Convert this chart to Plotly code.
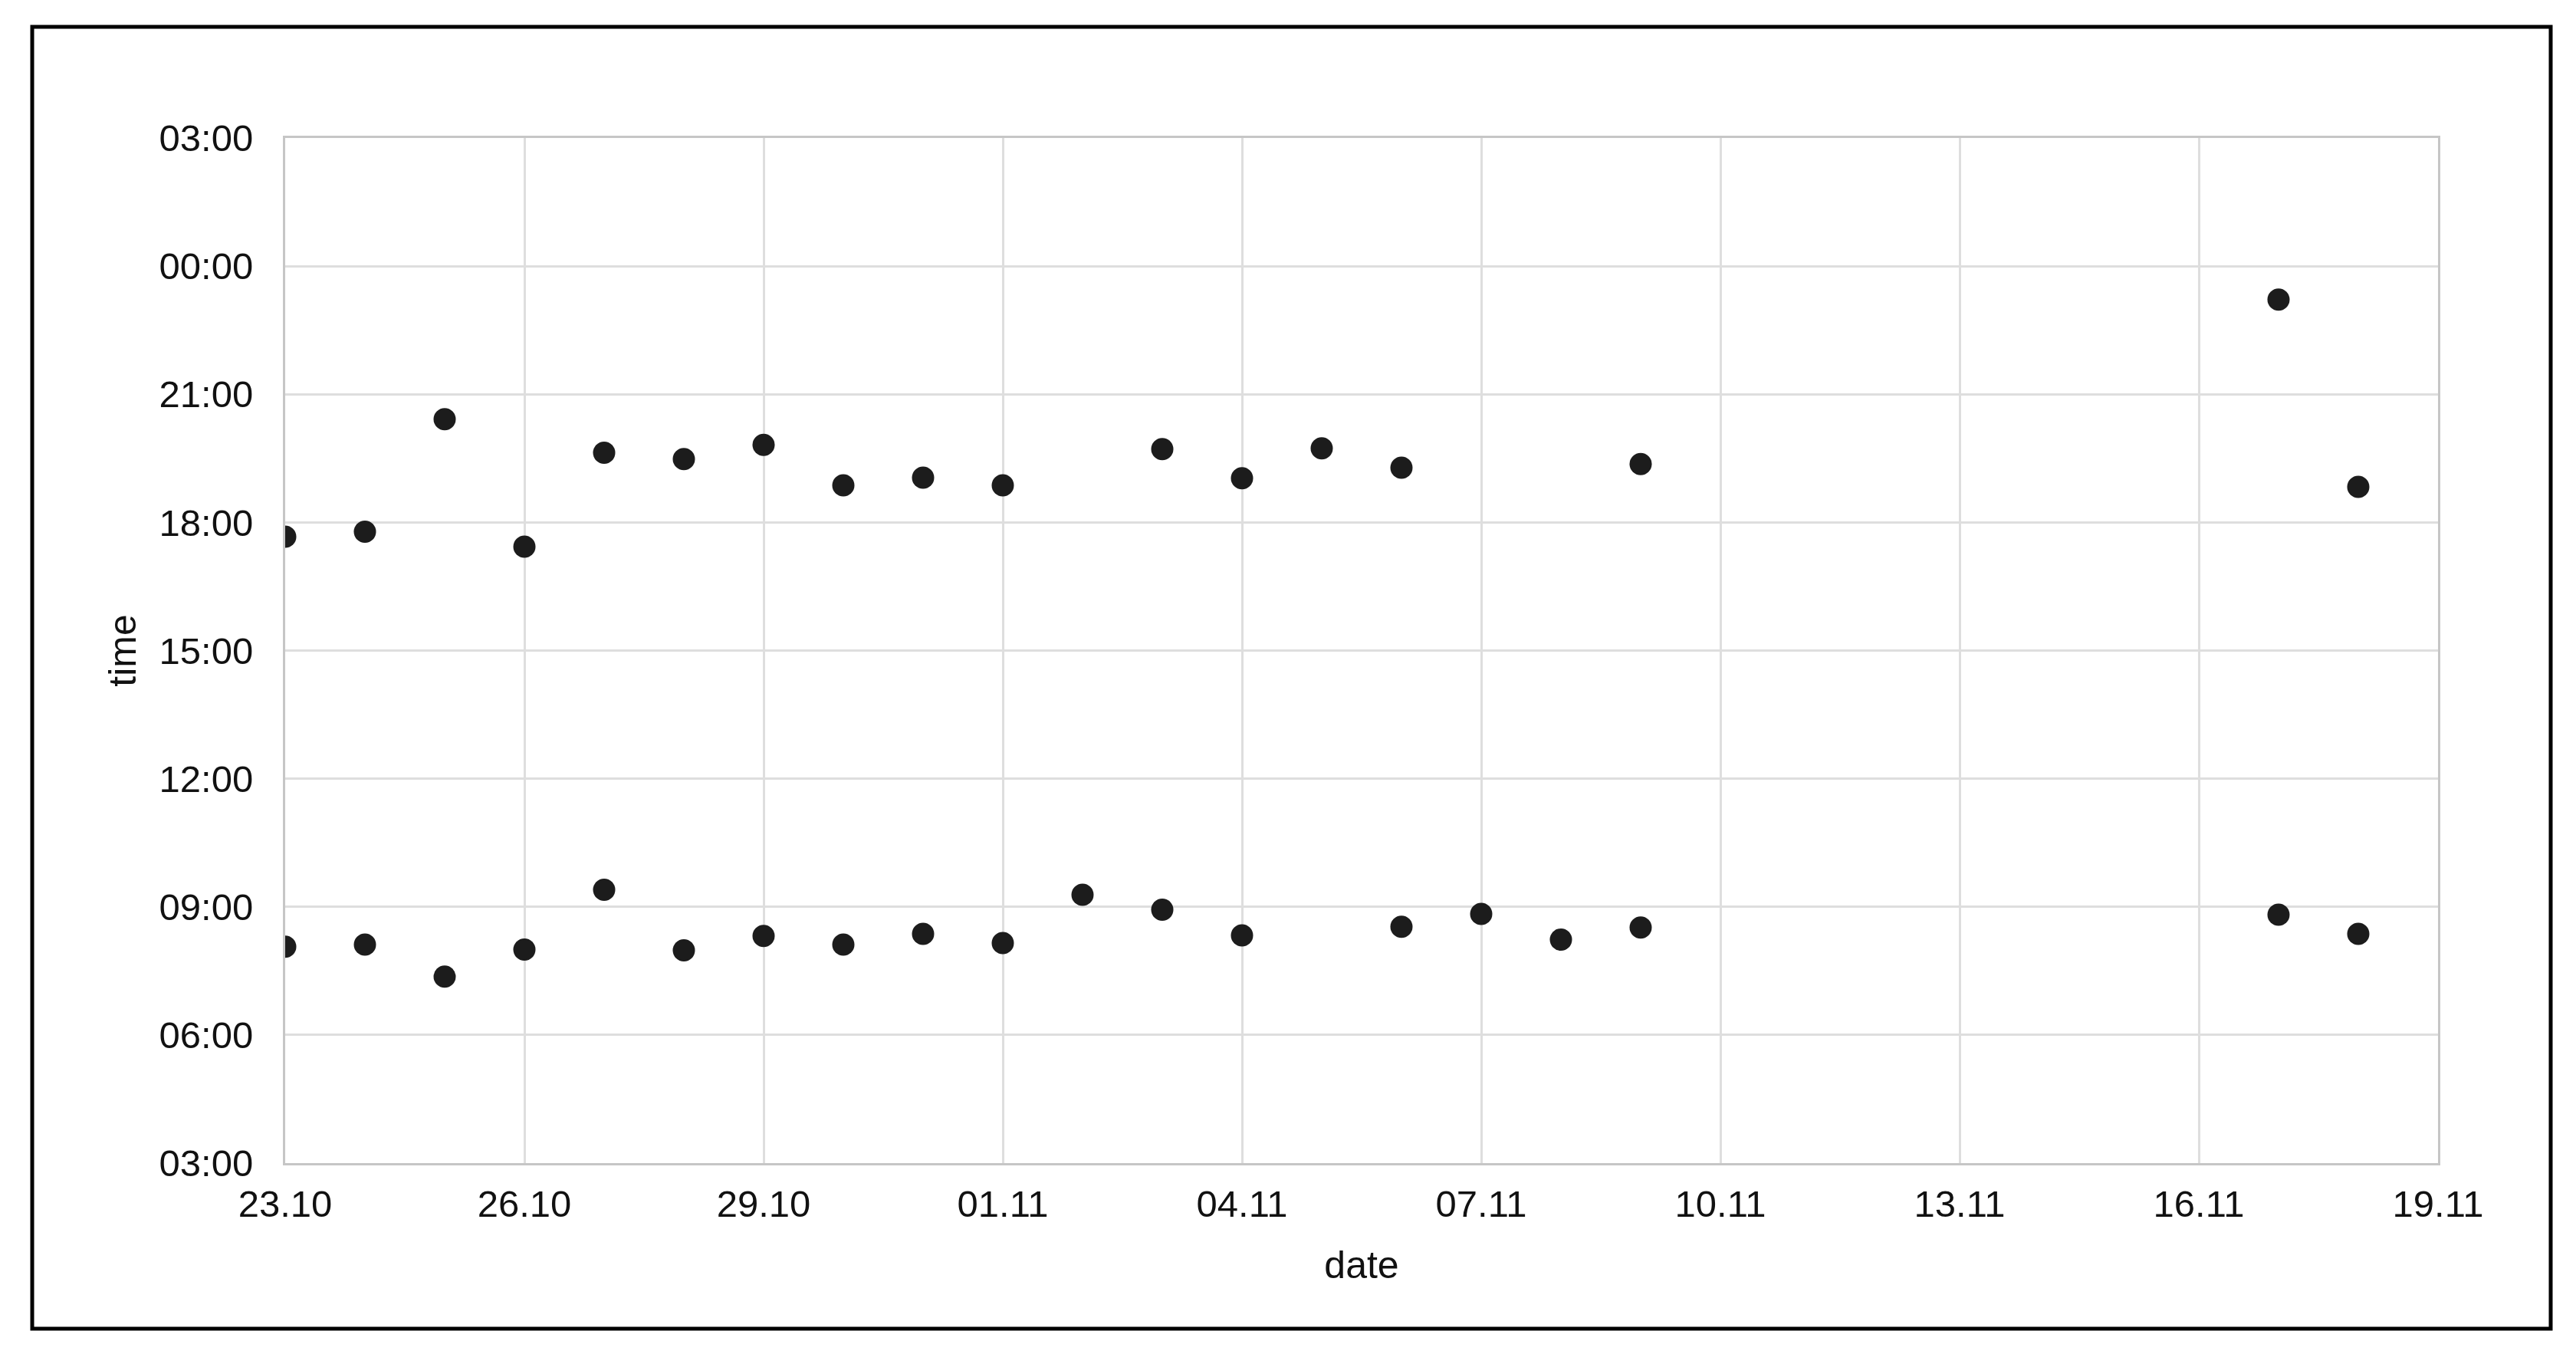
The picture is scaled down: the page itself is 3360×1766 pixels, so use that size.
import plotly.graph_objects as go
from datetime import datetime

YEAR = 2023

# evening series
evening_dates = ["23.10", "24.10", "25.10", "26.10", "27.10", "28.10", "29.10", "30.10", "31.10",
                 "01.11", "03.11", "04.11", "05.11", "06.11", "09.11", "17.11", "18.11"]
evening_times = ["17:40", "17:47", "20:25", "17:26", "19:38", "19:29", "19:49", "18:52", "19:03",
                 "18:52", "19:43", "19:02", "19:44", "19:17", "19:22", "23:13", "18:50"]

# morning series
morning_dates = ["23.10", "24.10", "25.10", "26.10", "27.10", "28.10", "29.10", "30.10", "31.10",
                 "01.11", "02.11", "03.11", "04.11", "06.11", "07.11", "08.11", "09.11", "17.11", "18.11"]
morning_times = ["08:04", "08:07", "07:22", "08:00", "09:24", "07:59", "08:19", "08:07", "08:22",
                 "08:09", "09:17", "08:56", "08:20", "08:32", "08:50", "08:14", "08:31", "08:49", "08:22"]

x_tick_labels = ["23.10", "26.10", "29.10", "01.11", "04.11", "07.11", "10.11", "13.11", "16.11", "19.11"]
y_tick_labels = ["03:00", "06:00", "09:00", "12:00", "15:00", "18:00", "21:00", "00:00", "03:00"]

Y_START = 3  # axis starts at 03:00 and spans 24 hours


def to_date(s):
    d, m = s.split(".")
    return datetime(YEAR, int(m), int(d))


def to_hours(s):
    h, m = s.split(":")
    v = int(h) + int(m) / 60.0
    if v < Y_START:
        v += 24
    return v


x_ticks = [to_date(s) for s in x_tick_labels]
y_ticks = [Y_START + 3 * i for i in range(len(y_tick_labels))]

MARKER = dict(size=29, color="#1c1c1c")

fig = go.Figure()
fig.add_trace(go.Scatter(x=[to_date(s) for s in evening_dates], y=[to_hours(t) for t in evening_times],
                         mode="markers", marker=MARKER, showlegend=False))
fig.add_trace(go.Scatter(x=[to_date(s) for s in morning_dates], y=[to_hours(t) for t in morning_times],
                         mode="markers", marker=MARKER, showlegend=False))

FONT = "Liberation Sans, Arial, sans-serif"
OFF = 8  # default page body margin
W, H = 3360 - 2 * OFF, 1766 - 2 * OFF
# plot area in page pixels: x 372..3180, y 180..1517
L, T = 372 - OFF, 180 - OFF
R = W - (3180 - OFF)
B = H - (1517 - OFF)
pw, ph = W - L - R, H - T - B


def px_x(px):
    return (px - OFF - L) / pw


def px_y(py):
    return (H - B - (py - OFF)) / ph


fig.update_layout(
    width=W, height=H,
    margin=dict(l=L, r=R, t=T, b=B),
    paper_bgcolor="white", plot_bgcolor="white",
    font=dict(family=FONT, size=49, color="#111111"),
    xaxis=dict(
        type="date",
        range=[x_ticks[0], x_ticks[-1]],
        tickvals=x_ticks, ticktext=x_tick_labels,
        showgrid=True, gridcolor="#dedede", gridwidth=3,
        showline=True, linecolor="#c6c6c6", linewidth=3, mirror=True,
        ticks="", zeroline=False, ticklabelstandoff=8,
        title=dict(text="date", standoff=37, font=dict(size=50)),
        automargin=False,
    ),
    yaxis=dict(
        range=[y_ticks[0], y_ticks[-1]],
        tickvals=y_ticks, ticktext=y_tick_labels,
        showgrid=True, gridcolor="#dedede", gridwidth=3,
        showline=True, linecolor="#c6c6c6", linewidth=3, mirror=True,
        ticks="", zeroline=False, ticklabelstandoff=29,
        title=dict(text="time", standoff=15, font=dict(size=50)),
        automargin=False,
    ),
    shapes=[dict(type="rect", xref="paper", yref="paper",
                 x0=px_x(42), x1=px_x(3327), y0=px_y(1733), y1=px_y(35),
                 line=dict(color="black", width=5), fillcolor="rgba(0,0,0,0)", layer="below")],
)

fig.write_html("out.html")
